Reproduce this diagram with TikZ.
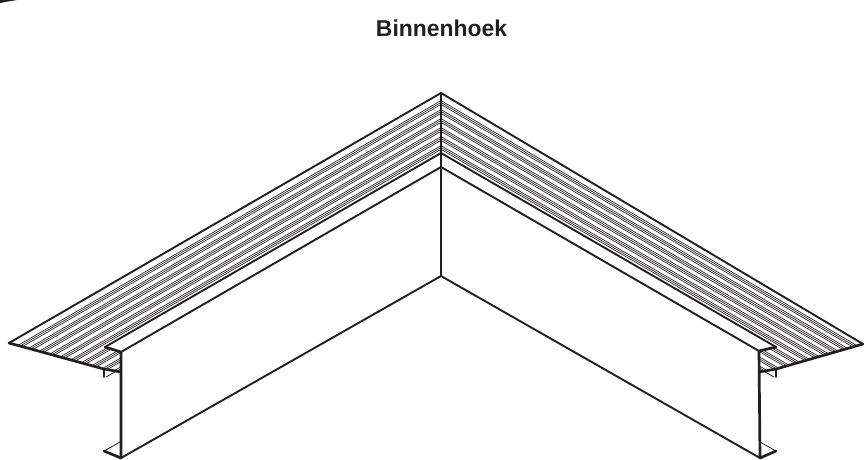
\documentclass[tikz,border=0pt]{standalone}
\usepackage{fontspec}
\setmainfont{Liberation Sans}
\tikzset{
  edgeline/.style={line width=1.9pt,line cap=round,line join=round,draw=ink},
  heavyline/.style={line width=2.7pt,line cap=round,line join=round,draw=ink},
  thinline/.style={line width=0.8pt,draw=ink},
  rib/.style={line width=0.65pt,draw=ink},
}
\definecolor{ink}{HTML}{231F20}
\begin{document}
\begin{tikzpicture}[x=1pt,y=-1pt]
\useasboundingbox (0,0) rectangle (864,459);
% named points
\coordinate (apex) at (441,93);
\coordinate (innerA) at (441,153);
\coordinate (innerB) at (441,167);
\coordinate (foot) at (441,276);
\coordinate (lTip) at (9,343);
\coordinate (lLipOut) at (105,347);
\coordinate (lLipIn) at (121,352);
\coordinate (lFront) at (121,372);
\coordinate (lBase) at (121,458);
\coordinate (rTip) at (863,344);
\coordinate (rLipOut) at (776,347);
\coordinate (rLipIn) at (759,351);
\coordinate (rFront) at (759,372);
\coordinate (rBase) at (760,458);
% left ribs
\begin{scope}
\clip (apex) -- (lTip) -- (lFront) -- (lLipIn) -- (lLipOut) -- (innerA) -- cycle;
\foreach \y in {102.5,111.5,...,200}{
  \foreach \d in {-1.9,0,1.9}{
    \draw[rib] (441,\y+\d) -- ++(-440,254.6);
  }
}
\end{scope}
% right ribs (fanned slightly between the two bounding edges)
\begin{scope}
\clip (apex) -- (rTip) -- (rFront) -- (rLipIn) -- (rLipOut) -- (innerA) -- cycle;
\foreach \y in {102.5,111.5,...,200}{
  \pgfmathsetmacro{\rise}{425*(0.579+0.0002*max(153-\y,0))}
  \foreach \d in {-1.9,0,1.9}{
    \draw[rib] (441,\y+\d) -- ++(425,\rise);
  }
}
\end{scope}
% outlines
\draw[edgeline] (lTip) -- (apex) -- (rTip);
\draw[edgeline] (lLipOut) -- (innerA) -- (rLipOut);
\draw[edgeline] (lLipIn) -- (innerB) -- (rLipIn);
\draw[edgeline] (lBase) -- (foot) -- (rBase);
\draw[edgeline] (apex) -- (foot);
\draw[heavyline] (lTip) -- (104,369) -- (lFront);
\draw[heavyline] (rTip) -- (776,369) -- (rFront);
\draw[heavyline] (lLipOut) -- (lLipIn) -- (lBase);
\draw[heavyline] (rLipOut) -- (rLipIn) -- (rBase);
% small flanges
\draw[edgeline] (104,369) -- (104,377);
\draw[thinline] (106,377) -- (115,372);
\draw[edgeline] (776,369) -- (776,377);
\draw[thinline] (774,377) -- (765,372);
% bottom flanges
\draw[thinline] (120,442) -- (104,451);
\draw[heavyline] (104,451) -- (lBase);
\draw[thinline] (760,442) -- (776,451);
\draw[heavyline] (776,451) -- (rBase);
% fragment at top-left corner
\fill[ink] (0,0) -- (17,0) -- (5,2) -- (0,3) -- cycle;
\node[font=\bfseries\fontsize{22.9}{24}\selectfont,text=ink,inner sep=0pt] (title) at (441.5,28) {Binnenhoek};
\end{tikzpicture}
\end{document}
